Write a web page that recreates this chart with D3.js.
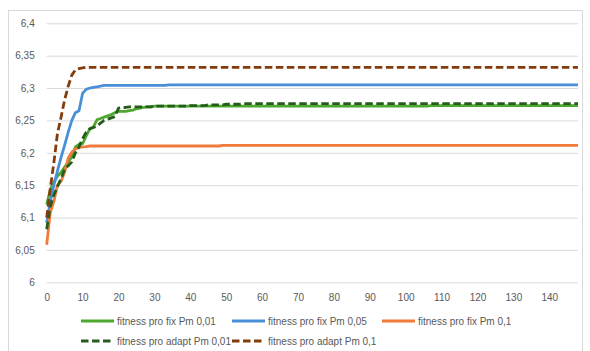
<!DOCTYPE html>
<html>
<head>
<meta charset="utf-8">
<script src="https://cdn.jsdelivr.net/npm/d3@7/dist/d3.min.js"></script>
<style>
  html, body { margin: 0; padding: 0; background: #fff; }
  svg text { font-family: "Liberation Sans", Arial, sans-serif; fill: #595959; }
</style>
</head>
<body>
<svg id="chart" width="590" height="351"></svg>
<script>
// Best fitness per generation (generations 0..148)
const fixPm001 = [
  6.120,6.143,6.155,6.164,6.170,6.178,6.186,6.194,6.209,6.213,
  6.214,6.226,6.237,6.240,6.251,6.253,6.255,6.257,6.259,6.262,
  6.264,6.264,6.264,6.265,6.266,6.268,6.269,6.270,6.271,6.271,
  6.272,
  6.272,6.272,6.272,6.272,6.272,6.272,6.272,6.272,6.272,6.272,
  6.272,6.272,6.272,6.272,6.272,6.272,6.272,6.272,6.272,6.272,
  6.272,6.272,6.272,6.272,6.272,6.272,6.272,6.272,6.272,6.272,
  6.272,6.272,6.272,6.272,6.272,6.272,6.272,6.272,6.272,6.272,
  6.272,6.272,6.272,6.272,6.272,6.272,6.272,6.272,6.272,6.272,
  6.272,6.272,6.272,6.272,6.272,6.272,6.272,6.272,6.272,6.272,
  6.272,6.272,6.272,6.272,6.272,6.272,6.272,6.272,6.272,6.272,
  6.272,6.272,6.272,6.272,6.272,6.272,
  6.273,6.273,6.273,6.273,6.273,6.273,6.273,6.273,6.273,6.273,
  6.273,6.273,6.273,6.273,6.273,6.273,6.273,6.273,6.273,6.273,
  6.273,6.273,6.273,6.273,6.273,6.273,6.273,6.273,6.273,6.273,
  6.273,6.273,6.273,6.273,6.273,6.273,6.273,6.273,6.273,6.273,
  6.273,6.273
];
const fixPm005 = [
  6.092,6.125,6.150,6.172,6.193,6.212,6.232,6.250,6.262,6.265,
  6.292,6.298,6.300,6.301,6.302,6.303,6.304,
  6.304,6.304,6.304,6.304,6.304,6.304,6.304,6.304,6.304,6.304,
  6.304,6.304,6.304,6.304,6.304,6.304,6.304,
  6.305,6.305,6.305,6.305,6.305,6.305,6.305,6.305,6.305,6.305,
  6.305,6.305,6.305,6.305,6.305,6.305,6.305,6.305,6.305,6.305,
  6.305,6.305,6.305,6.305,6.305,6.305,6.305,6.305,6.305,6.305,
  6.305,6.305,6.305,6.305,6.305,6.305,6.305,6.305,6.305,6.305,
  6.305,6.305,6.305,6.305,6.305,6.305,6.305,6.305,6.305,6.305,
  6.305,6.305,6.305,6.305,6.305,6.305,6.305,6.305,6.305,6.305,
  6.305,6.305,6.305,6.305,6.305,6.305,6.305,6.305,6.305,6.305,
  6.305,6.305,6.305,6.305,6.305,6.305,6.305,6.305,6.305,6.305,
  6.305,6.305,6.305,6.305,6.305,6.305,6.305,6.305,6.305,6.305,
  6.305,6.305,6.305,6.305,6.305,6.305,6.305,6.305,6.305,6.305,
  6.305,6.305,6.305,6.305,6.305,6.305,6.305,6.305,6.305,6.305,
  6.305,6.305,6.305,6.305,6.305
];
const fixPm01 = [
  6.058,6.108,6.125,6.150,6.156,6.170,6.192,6.201,6.206,6.208,
  6.209,6.2095,
  6.2105,6.2105,6.2105,6.2105,6.2105,6.2105,6.2105,6.2105,6.2105,6.2105,
  6.2105,6.2105,6.2105,6.2105,6.2105,6.2105,6.2105,6.2105,6.2105,6.2105,
  6.2105,6.2105,6.2105,6.2105,6.2105,6.2105,6.2105,6.2105,6.2105,6.2105,
  6.2105,6.2105,6.2105,6.2105,6.2105,6.2105,6.2105,
  6.2115,6.2115,6.2115,6.2115,6.2115,6.2115,6.2115,6.2115,6.2115,6.2115,
  6.2115,6.2115,6.2115,6.2115,6.2115,6.2115,6.2115,6.2115,6.2115,6.2115,
  6.2115,6.2115,6.2115,6.2115,6.2115,6.2115,6.2115,6.2115,6.2115,6.2115,
  6.2115,6.2115,6.2115,6.2115,6.2115,6.2115,6.2115,6.2115,6.2115,6.2115,
  6.2115,6.2115,6.2115,6.2115,6.2115,6.2115,6.2115,6.2115,6.2115,6.2115,
  6.2115,6.2115,6.2115,6.2115,6.2115,6.2115,6.2115,6.2115,6.2115,6.2115,
  6.2115,6.2115,6.2115,6.2115,6.2115,6.2115,6.2115,6.2115,6.2115,6.2115,
  6.2115,6.2115,6.2115,6.2115,6.2115,6.2115,6.2115,6.2115,6.2115,6.2115,
  6.2115,6.2115,6.2115,6.2115,6.2115,6.2115,6.2115,6.2115,6.2115,6.2115,
  6.2115,6.2115,6.2115,6.2115,6.2115,6.2115,6.2115,6.2115,6.2115,6.2115
];
const adaptPm001 = [
  6.082,6.117,6.135,6.148,6.160,6.175,6.180,6.186,6.200,6.209,
  6.222,6.232,6.237,6.239,6.241,6.246,6.250,6.252,6.254,6.256,
  6.269,6.270,6.270,
  6.271,6.271,6.271,6.271,6.271,6.271,6.271,
  6.272,6.272,6.272,6.272,6.272,6.272,6.272,6.272,6.272,6.272,
  6.273,6.273,6.273,6.273,6.273,
  6.274,6.274,6.274,6.274,6.274,
  6.275,6.275,6.275,6.275,6.275,
  6.276,6.276,6.276,6.276,6.276,6.276,6.276,6.276,6.276,6.276,
  6.276,6.276,6.276,6.276,6.276,6.276,6.276,6.276,6.276,6.276,
  6.276,6.276,6.276,6.276,6.276,6.276,6.276,6.276,6.276,6.276,
  6.276,6.276,6.276,6.276,6.276,6.276,6.276,6.276,6.276,6.276,
  6.276,6.276,6.276,6.276,6.276,6.276,6.276,6.276,6.276,6.276,
  6.276,6.276,6.276,6.276,6.276,6.276,6.276,6.276,6.276,6.276,
  6.276,6.276,6.276,6.276,6.276,6.276,6.276,6.276,6.276,6.276,
  6.276,6.276,6.276,6.276,6.276,6.276,6.276,6.276,6.276,6.276,
  6.276,6.276,6.276,6.276,6.276,6.276,6.276,6.276,6.276,6.276,
  6.276,6.276,6.276,6.276
];
const adaptPm01 = [
  6.100,6.145,6.185,6.230,6.255,6.282,6.303,6.320,6.328,6.330,
  6.331,
  6.332,6.332,6.332,6.332,6.332,6.332,6.332,6.332,6.332,6.332,
  6.332,6.332,6.332,6.332,6.332,6.332,6.332,6.332,6.332,6.332,
  6.332,6.332,6.332,6.332,6.332,6.332,6.332,6.332,6.332,6.332,
  6.332,6.332,6.332,6.332,6.332,6.332,6.332,6.332,6.332,6.332,
  6.332,6.332,6.332,6.332,6.332,6.332,6.332,6.332,6.332,6.332,
  6.332,6.332,6.332,6.332,6.332,6.332,6.332,6.332,6.332,6.332,
  6.332,6.332,6.332,6.332,6.332,6.332,6.332,6.332,6.332,6.332,
  6.332,6.332,6.332,6.332,6.332,6.332,6.332,6.332,6.332,6.332,
  6.332,6.332,6.332,6.332,6.332,6.332,6.332,6.332,6.332,6.332,
  6.332,6.332,6.332,6.332,6.332,6.332,6.332,6.332,6.332,6.332,
  6.332,6.332,6.332,6.332,6.332,6.332,6.332,6.332,6.332,6.332,
  6.332,6.332,6.332,6.332,6.332,6.332,6.332,6.332,6.332,6.332,
  6.332,6.332,6.332,6.332,6.332,6.332,6.332,6.332,6.332,6.332,
  6.332,6.332,6.332,6.332,6.332,6.332,6.332,6.332
];

const yTicks = [6, 6.05, 6.1, 6.15, 6.2, 6.25, 6.3, 6.35, 6.4];
const xTicks = [0, 10, 20, 30, 40, 50, 60, 70, 80, 90, 100, 110, 120, 130, 140];

const seriesNames = [
  "fitness pro fix Pm 0,01",
  "fitness pro fix Pm 0,05",
  "fitness pro fix Pm 0,1",
  "fitness pro adapt Pm 0,01",
  "fitness pro adapt Pm 0,1"
];

const series = [
  { name: seriesNames[0], values: fixPm001,   color: "#4EA72E", dash: null },
  { name: seriesNames[1], values: fixPm005,   color: "#4A90D9", dash: null },
  { name: seriesNames[2], values: fixPm01,    color: "#F07B3A", dash: null },
  { name: seriesNames[3], values: adaptPm001, color: "#245C1C", dash: "7.5,3.5" },
  { name: seriesNames[4], values: adaptPm01,  color: "#843C0C", dash: "7.5,3.5" }
];

const svg = d3.select("#chart");

// outer chart frame
svg.append("rect")
  .attr("x", 8.5).attr("y", 10.5)
  .attr("width", 574).attr("height", 345)
  .attr("fill", "none").attr("stroke", "#d9d9d9");

const plotL = 46.7, plotR = 578, plotT = 23.3, plotB = 282.3;

const x = d3.scaleLinear().domain([0, 148]).range([plotL, plotR]);
const y = d3.scaleLinear().domain([6, 6.4]).range([plotB, plotT]);

const fmt = v => String(+v.toFixed(2)).replace(".", ",");

// horizontal gridlines + value labels
const yAxis = d3.axisLeft(y)
  .tickValues(yTicks)
  .tickSize(-(plotR - plotL))
  .tickPadding(12)
  .tickFormat(fmt);

const gy = svg.append("g")
  .attr("transform", `translate(${plotL},0)`)
  .call(yAxis);
gy.select(".domain").remove();
gy.selectAll(".tick line").attr("stroke", "#d9d9d9").attr("stroke-width", 1);
gy.selectAll(".tick text").attr("font-size", 10).attr("fill", "#595959")
  .attr("font-family", "Liberation Sans, Arial, sans-serif");

// generation labels
const xAxis = d3.axisBottom(x)
  .tickValues(xTicks)
  .tickSize(0)
  .tickPadding(12)
  .tickFormat(d3.format("d"));

const gx = svg.append("g")
  .attr("transform", `translate(0,${plotB})`)
  .call(xAxis);
gx.select(".domain").remove();
gx.selectAll(".tick text").attr("font-size", 10).attr("fill", "#595959")
  .attr("font-family", "Liberation Sans, Arial, sans-serif");

const line = d3.line()
  .x((d, i) => x(i))
  .y(d => y(d));

svg.append("g")
  .selectAll("path")
  .data(series)
  .join("path")
  .attr("d", s => line(s.values))
  .attr("fill", "none")
  .attr("stroke", s => s.color)
  .attr("stroke-width", 2.8)
  .attr("stroke-linejoin", "round")
  .attr("stroke-dasharray", s => s.dash);

// legend
const legendPos = [
  { x: 81, y: 321, len: 33 },
  { x: 232, y: 321, len: 33 },
  { x: 382, y: 321, len: 33 },
  { x: 81, y: 341, len: 30 },
  { x: 232, y: 341, len: 30 }
];

const lg = svg.append("g")
  .selectAll("g")
  .data(series)
  .join("g")
  .attr("transform", (s, i) => `translate(${legendPos[i].x},${legendPos[i].y})`);

lg.append("line")
  .attr("x1", 0).attr("x2", (s, i) => legendPos[i].len)
  .attr("y1", 0).attr("y2", 0)
  .attr("stroke", s => s.color)
  .attr("stroke-width", 2.8)
  .attr("stroke-dasharray", s => s.dash);

lg.append("text")
  .attr("x", (s, i) => legendPos[i].len + (s.dash ? 6 : 3))
  .attr("y", 0)
  .attr("dy", "0.35em")
  .attr("font-size", 10)
  .text(s => s.name);
</script>
</body>
</html>
